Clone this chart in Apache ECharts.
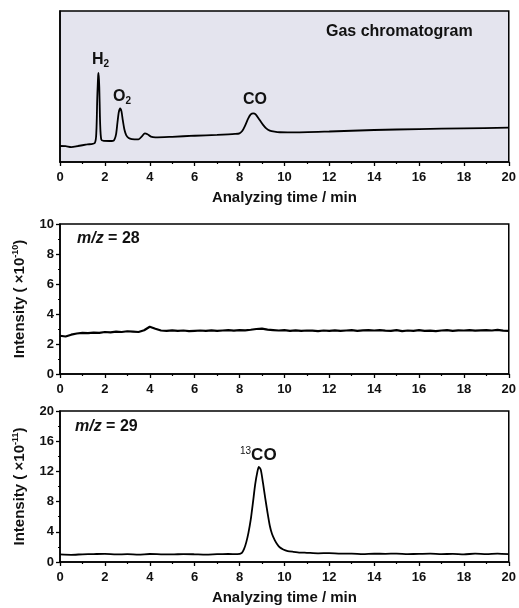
<!DOCTYPE html>
<html>
<head>
<meta charset="utf-8">
<script src="https://cdn.jsdelivr.net/npm/echarts@6/dist/echarts.min.js"></script>
<style>html,body{margin:0;padding:0;background:#fff}#c{width:519px;height:608px}</style>
</head>
<body>
<div id="c"></div>
<script>
// Gas chromatogram (arbitrary units, 0-100)
const gcTime = [0,0.25,0.5,0.8,1.2,1.55,1.62,1.66,1.70,1.72,1.75,1.79,1.84,1.95,2.2,2.36,2.43,2.5,2.56,2.62,2.68,2.74,2.8,2.87,2.95,3.06,3.2,3.5,3.65,3.78,3.9,4.05,4.25,5,6,7,7.8,8.0,8.12,8.24,8.39,8.5,8.61,8.72,8.9,9.05,9.19,9.35,9.56,9.8,10.3,12,14,16,18,20];
const gcVal = [10.6,10.5,9.9,10.6,11.6,12.6,20,42,57,59,50,25,14.8,14.0,13.9,14.0,15,18.5,26,33,35.5,33.5,27.5,21.5,17.8,15.9,15.2,15.0,17.0,19,18.4,16.8,16.3,16.7,17.4,18.0,18.6,19.0,20.5,23.8,28.9,31.5,32.2,31.6,27.8,24.6,22.3,20.8,20.1,19.7,19.6,20.2,21.2,21.8,22.3,22.7];

// m/z = 28 (x1e-10)
const mz28Time = [0,0.25,0.5,0.75,1,1.25,1.5,1.75,2,2.25,2.5,2.75,3,3.25,3.5,3.75,4,4.25,4.5,4.75,5,5.25,5.5,5.75,6,6.25,6.5,6.75,7,7.25,7.5,7.75,8,8.25,8.5,8.75,9,9.25,9.5,9.75,10,10.25,10.5,10.75,11,11.25,11.5,11.75,12,12.25,12.5,12.75,13,13.25,13.5,13.75,14,14.25,14.5,14.75,15,15.25,15.5,15.75,16,16.25,16.5,16.75,17,17.25,17.5,17.75,18,18.25,18.5,18.75,19,19.25,19.5,19.75,20];
const mz28Val = [2.55,2.5,2.62,2.70,2.74,2.72,2.76,2.74,2.80,2.78,2.82,2.80,2.85,2.83,2.80,2.92,3.15,3.02,2.90,2.88,2.91,2.87,2.90,2.86,2.88,2.90,2.87,2.91,2.88,2.90,2.92,2.89,2.93,2.91,2.95,3.00,3.02,2.96,2.93,2.90,2.92,2.88,2.91,2.87,2.90,2.89,2.86,2.90,2.88,2.91,2.87,2.90,2.92,2.88,2.91,2.93,2.90,2.92,2.89,2.87,2.93,2.86,2.90,2.88,2.92,2.87,2.89,2.86,2.90,2.92,2.88,2.91,2.90,2.93,2.89,2.91,2.92,2.90,2.94,2.89,2.88];

// m/z = 29 (x1e-11)
const mz29Time = [0,0.5,1,1.5,2,2.5,3,3.5,4,4.5,5,5.5,6,6.5,7,7.5,7.9,8.1,8.2,8.3,8.4,8.5,8.6,8.7,8.8,8.86,8.95,9.05,9.15,9.25,9.35,9.45,9.57,9.68,9.79,9.95,10.15,10.4,10.7,11,11.5,12,12.5,13,13.5,14,14.5,15,15.5,16,16.5,17,17.5,18,18.5,19,19.5,20];
const mz29Val = [1.0,0.95,1.02,1.05,1.08,1.0,1.04,0.98,1.06,1.02,1.0,1.05,1.02,0.98,1.04,1.06,1.05,1.2,1.7,2.6,3.9,5.6,7.9,10.3,12.0,12.6,12.2,10.4,8.4,6.5,4.8,3.7,2.9,2.35,1.95,1.65,1.45,1.35,1.25,1.22,1.15,1.18,1.1,1.12,1.05,1.1,1.08,1.12,1.05,1.07,1.1,1.04,1.08,1.02,1.1,1.05,1.12,1.05];

const xTicks = [0,2,4,6,8,10,12,14,16,18,20];
const xTitle = 'Analyzing time / min';

const pair = (t, v) => t.map((x, i) => [x, v[i]]);
const FONT = 'Liberation Sans, Arial, sans-serif';

const chart = echarts.init(document.getElementById('c'), null, {renderer: 'canvas'});

function xAxisCfg(gridIndex, showName) {
  return {
    type: 'value', gridIndex, min: xTicks[0], max: xTicks[xTicks.length - 1], interval: 2,
    axisLine: {show: true, onZero: false, lineStyle: {color: '#000', width: 1.5}},
    axisTick: {show: true, inside: false, length: 4, lineStyle: {color: '#000', width: 1.3}},
    minorTick: {show: true, splitNumber: 2, length: 2, lineStyle: {color: '#000', width: 1.2}},
    splitLine: {show: false},
    axisLabel: {color: '#111', fontFamily: FONT, fontWeight: 'bold', fontSize: 13, margin: 9},
    name: showName ? xTitle : '', nameLocation: 'middle', nameGap: 28,
    nameTextStyle: {color: '#111', fontFamily: FONT, fontWeight: 'bold', fontSize: 15}
  };
}
function yAxisCfg(gridIndex, max, interval, exp) {
  return {
    type: 'value', gridIndex, min: 0, max, interval,
    axisLine: {show: true, lineStyle: {color: '#000', width: 1.5}},
    axisTick: {show: true, inside: false, length: 4, lineStyle: {color: '#000', width: 1.3}},
    minorTick: {show: true, splitNumber: 2, length: 2, lineStyle: {color: '#000', width: 1.2}},
    splitLine: {show: false},
    axisLabel: {color: '#111', fontFamily: FONT, fontWeight: 'bold', fontSize: 13, margin: 6},
    name: 'Intensity ( \u00D710{sup|' + exp + '})', nameLocation: 'middle', nameGap: 31, nameRotate: 90,
    nameTextStyle: {color: '#111', fontFamily: FONT, fontWeight: 'bold', fontSize: 15,
      rich: {sup: {fontSize: 9, fontFamily: FONT, fontWeight: 'bold', color: '#111', verticalAlign: 'top', padding: [0, 0, 9, 0]}}}
  };
}

const gridBase = {left: 60, right: 6, show: true, borderColor: '#000', borderWidth: 1.5};

const lab = {fontFamily: FONT, fontWeight: 'bold', fill: '#111'};
const option = {
  animation: false,
  grid: [
    Object.assign({}, gridBase, {top: 11, height: 151, backgroundColor: '#e4e4ee'}),
    Object.assign({}, gridBase, {top: 224, height: 150, backgroundColor: '#fff'}),
    Object.assign({}, gridBase, {top: 411, height: 151, backgroundColor: '#fff'})
  ],
  xAxis: [xAxisCfg(0, true), xAxisCfg(1, false), xAxisCfg(2, true)],
  yAxis: [
    {type: 'value', gridIndex: 0, min: 0, max: 100, axisLine: {show: true, lineStyle: {color: '#000', width: 1.5}},
     axisTick: {show: false}, axisLabel: {show: false}, splitLine: {show: false}},
    yAxisCfg(1, 10, 2, '-10'),
    yAxisCfg(2, 20, 4, '-11')
  ],
  series: [
    {type: 'line', xAxisIndex: 0, yAxisIndex: 0, data: pair(gcTime, gcVal), showSymbol: false, smooth: 0.25,
     lineStyle: {color: '#000', width: 1.8}},
    {type: 'line', xAxisIndex: 1, yAxisIndex: 1, data: pair(mz28Time, mz28Val), showSymbol: false,
     lineStyle: {color: '#000', width: 2.2}},
    {type: 'line', xAxisIndex: 2, yAxisIndex: 2, data: pair(mz29Time, mz29Val), showSymbol: false, smooth: 0.2,
     lineStyle: {color: '#000', width: 1.8}}
  ],
  graphic: [
    {type: 'text', left: 326, top: 24, style: Object.assign({}, lab, {text: 'Gas chromatogram', fontSize: 16})},
    {type: 'text', left: 92, top: 52, style: Object.assign({}, lab, {text: 'H{sub|2}', fontSize: 16,
      rich: {sub: {fontSize: 10, fontFamily: FONT, fontWeight: 'bold', fill: '#111', padding: [8, 0, 0, 0]}}})},
    {type: 'text', left: 113, top: 89, style: Object.assign({}, lab, {text: 'O{sub|2}', fontSize: 16,
      rich: {sub: {fontSize: 10, fontFamily: FONT, fontWeight: 'bold', fill: '#111', padding: [8, 0, 0, 0]}}})},
    {type: 'text', left: 243, top: 92, style: Object.assign({}, lab, {text: 'CO', fontSize: 16})},
    {type: 'text', left: 77, top: 231, style: Object.assign({}, lab, {text: '{i|m/z} = 28', fontSize: 16,
      rich: {i: {fontStyle: 'italic', fontSize: 16, fontFamily: FONT, fontWeight: 'bold', fill: '#111'}}})},
    {type: 'text', left: 75, top: 419, style: Object.assign({}, lab, {text: '{i|m/z} = 29', fontSize: 16,
      rich: {i: {fontStyle: 'italic', fontSize: 16, fontFamily: FONT, fontWeight: 'bold', fill: '#111'}}})},
    {type: 'text', left: 240, top: 446, style: Object.assign({}, lab, {text: '{s|13}CO', fontSize: 17,
      rich: {s: {fontSize: 10, fontFamily: FONT, fontWeight: 'normal', fill: '#111', padding: [0, 0, 8, 0]}}})}
  ]
};
chart.setOption(option);
</script>
</body>
</html>
